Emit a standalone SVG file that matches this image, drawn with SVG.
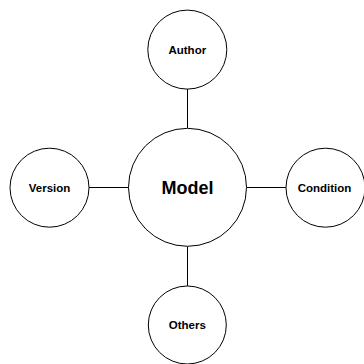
<svg xmlns="http://www.w3.org/2000/svg" width="364" height="364" viewBox="0 0 364 364">
<style>
.n{fill:#fff;stroke:#000;stroke-width:1}
.c{stroke:#000;stroke-width:1;fill:none}
text{font-family:"Liberation Sans",Arial,sans-serif;font-weight:bold;fill:#000;text-anchor:middle}
.s{font-size:11.5px}
.b{font-size:18px}
</style>
<rect width="364" height="364" fill="#fff"/>
<g id="connectors">
<line class="c" x1="187.5" y1="89" x2="187.5" y2="128"/>
<line class="c" x1="187.5" y1="246.5" x2="187.5" y2="286"/>
<line class="c" x1="89" y1="187.5" x2="128.5" y2="187.5"/>
<line class="c" x1="246.5" y1="187.5" x2="286" y2="187.5"/>
</g>
<g id="model"><circle class="n" cx="187.5" cy="187.3" r="59"/><text class="b" x="187.5" y="194">Model</text></g>
<g id="author"><circle class="n" cx="187.3" cy="49.6" r="39.5"/><text class="s" x="187.3" y="53.5">Author</text></g>
<g id="version"><circle class="n" cx="49.5" cy="187.7" r="39.5"/><text class="s" x="49.5" y="191.5">Version</text></g>
<g id="condition"><circle class="n" cx="325.5" cy="187.7" r="39.5"/><text class="s" x="324.5" y="191.5">Condition</text></g>
<g id="others"><circle class="n" cx="187.3" cy="325" r="39"/><text class="s" x="187.3" y="329">Others</text></g>
</svg>
